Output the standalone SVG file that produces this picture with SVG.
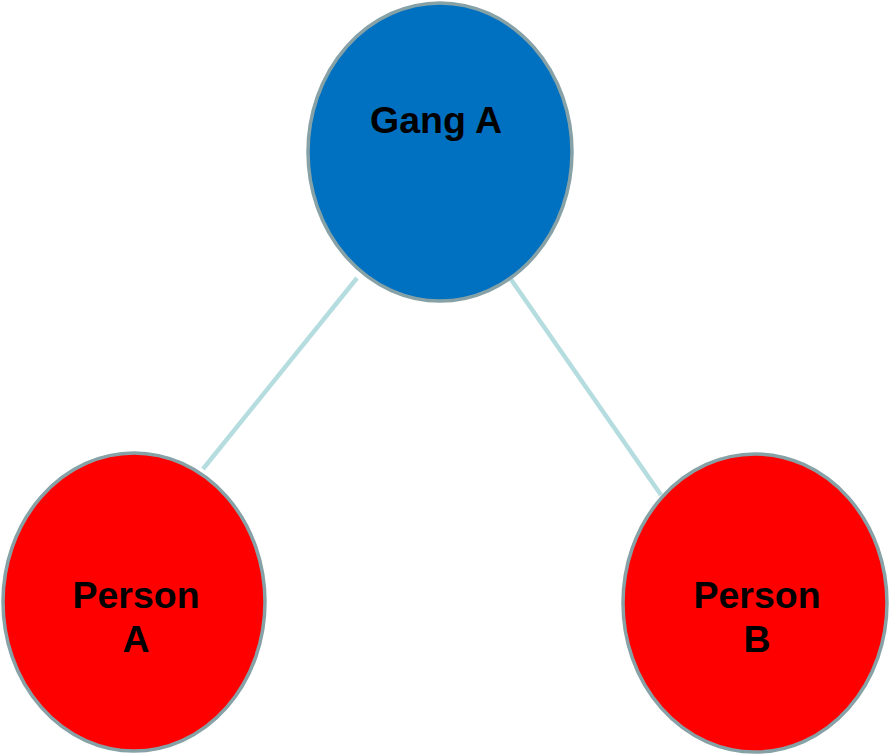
<svg xmlns="http://www.w3.org/2000/svg" width="891" height="755" viewBox="0 0 891 755">
<style>
.edge{stroke:#b5dde0;stroke-width:4.5;fill:none}
.node{stroke:#87a2a7;stroke-width:3.5}
.lbl{font-family:"Liberation Sans",Arial,sans-serif;font-weight:bold;font-size:37.5px;fill:#000;text-anchor:middle}
</style>
<rect width="891" height="755" fill="#fff"/>
<g id="connectors">
<line class="edge" x1="357" y1="278" x2="203" y2="469"/>
<line class="edge" x1="510" y1="278" x2="661" y2="495"/>
</g>
<g id="gangA">
<ellipse class="node" cx="440" cy="152" rx="132" ry="149" fill="#0070c0"/>
<text class="lbl" x="436" y="133">Gang A</text>
</g>
<g id="personA">
<ellipse class="node" cx="134" cy="602" rx="131" ry="149" fill="#ff0000"/>
<text class="lbl" x="136" y="608">Person</text>
<text class="lbl" x="136" y="652">A</text>
</g>
<g id="personB">
<ellipse class="node" cx="755" cy="603" rx="132" ry="149" fill="#ff0000"/>
<text class="lbl" x="757" y="608">Person</text>
<text class="lbl" x="757" y="652">B</text>
</g>
</svg>
